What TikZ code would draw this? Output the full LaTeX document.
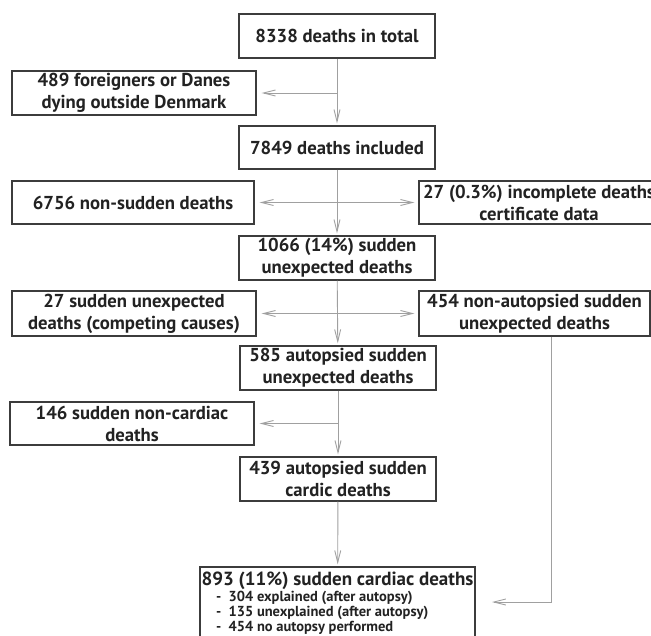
\documentclass[tikz,border=0pt]{standalone}
\usepackage{fontspec}
\setmainfont{PT Sans}
\usetikzlibrary{arrows.meta,calc}
\definecolor{boxline}{HTML}{3C3C3C}
\definecolor{connline}{HTML}{A0A0A0}
\definecolor{txt}{HTML}{222222}
\begin{document}
\begin{tikzpicture}[x=1pt,y=-1pt,
  box/.style={draw=boxline, line width=1.4pt, rectangle, inner sep=0pt, align=center,
    text=txt, font=\fontsize{18.7}{22}\selectfont\bfseries},
  conn/.style={draw=connline, line width=0.9pt, -{Straight Barb[length=12pt,width=6pt]}},
  dconn/.style={draw=connline, line width=0.9pt, {Straight Barb[length=12pt,width=6pt]}-{Straight Barb[length=12pt,width=6pt]}},
  item/.style={anchor=west, inner sep=0pt, text=txt, font=\fontsize{14.5}{15}\selectfont\bfseries}
]
\useasboundingbox (0,0) rectangle (651,635);
\fill[white] (0,0) rectangle (651,635);

\node[box, minimum width=196pt, minimum height=44pt] (n8338) at (337,36) {8338 deaths in total};
\node[box, minimum width=244pt, minimum height=44pt] (n489) at (134,93) {489 foreigners or Danes\\dying outside Denmark};
\node[box, minimum width=196pt, minimum height=43pt] (n7849) at (337,147.5) {7849 deaths included};
\node[box, minimum width=242pt, minimum height=43pt] (n6756) at (133,202.5) {6756 non-sudden deaths};
\node[box, minimum width=240pt, minimum height=43pt] (n27inc) at (539,202.5) {27 (0.3\%) incomplete deaths\\certificate data};
\node[box, minimum width=196pt, minimum height=44pt] (n1066) at (337,258) {1066 (14\%) sudden\\unexpected deaths};
\node[box, minimum width=244pt, minimum height=45pt] (n27comp) at (134,313.5) {27 sudden unexpected\\deaths (competing causes)};
\node[box, minimum width=231pt, minimum height=45pt] (n454) at (534.5,313.5) {454 non-autopsied sudden\\unexpected deaths};
\node[box, minimum width=196pt, minimum height=44pt] (n585) at (338,368) {585 autopsied sudden\\unexpected deaths};
\node[box, minimum width=244pt, minimum height=43pt] (n146) at (132,423.5) {146 sudden non-cardiac\\deaths};
\node[box, minimum width=196pt, minimum height=44pt] (n439) at (338,479) {439 autopsied sudden\\cardic deaths};
\node[draw=boxline, line width=1.4pt, rectangle, minimum width=275pt, minimum height=100pt] (n893) at (337.5,617) {};
\node[inner sep=0pt, text=txt, font=\fontsize{19}{22}\selectfont\bfseries] (t893) at (337.5,580.5) {893 (11\%) sudden cardiac deaths};
\node[item] (i1) at (216,598) {-\enspace 304 explained (after autopsy)};
\node[item] (i2) at (216,613) {-\enspace 135 unexplained (after autopsy)};
\node[item] (i3) at (216,628) {-\enspace 454 no autopsy performed};

\coordinate (rx) at (551,0);
\coordinate (tip) at (492,602);

\draw[conn, shorten >=2pt] (n8338) -- (n7849);
\draw[conn, shorten >=5pt] (n8338.south |- n489.east) -- (n489.east);
\draw[conn, shorten >=2pt] (n7849) -- (n1066);
\draw[dconn, shorten >=4pt, shorten <=5pt] (n6756.east) -- (n27inc.west);
\draw[conn, shorten >=2pt] (n1066) -- (n585);
\draw[dconn, shorten >=4pt, shorten <=5pt] (n27comp.east) -- (n454.west);
\draw[conn, shorten >=2pt] (n585) -- (n439);
\draw[conn, shorten >=5pt] (n585.south |- n146.east) -- (n146.east);
\draw[conn, shorten >=2pt] (n439) -- (n893);
\draw[conn] (n454.south -| rx) |- (tip);
\end{tikzpicture}
\end{document}
